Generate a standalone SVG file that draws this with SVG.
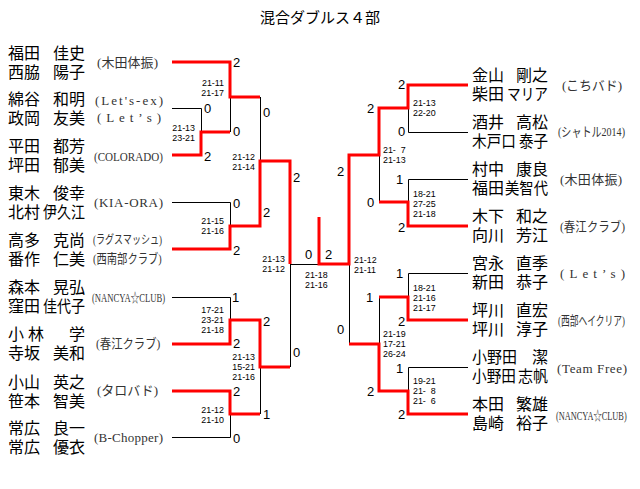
<svg xmlns="http://www.w3.org/2000/svg" width="640" height="489" viewBox="0 0 640 489">
<style>
.bg{fill:#fff}
.tt{font-family:"Liberation Sans","Noto Sans CJK JP",sans-serif;font-size:15px;fill:#000;text-anchor:middle}
.nm{font-family:"Liberation Sans","Noto Sans CJK JP",sans-serif;font-size:16px;fill:#000}
.cl{font-family:"Liberation Serif","Noto Sans CJK JP",serif;font-size:13px;fill:#333}
.sc{font-family:"Liberation Sans",sans-serif;font-size:13px;fill:#000}
.ss{font-family:"Liberation Sans",sans-serif;font-size:8.9px;fill:#000}
.se{text-anchor:end}
.w{stroke:#f00;stroke-width:3;fill:none;stroke-linejoin:miter}
.l{stroke:#000;stroke-width:1;fill:none}
</style>
<rect class="bg" x="0" y="0" width="640" height="489"/>
<text class="tt" x="320" y="23">混合ダブルス４部</text>

<g id="connectors">
<path class="l" d="M172,108.5H201.5V132 M230.5,97V132 M172,202.5H230.5V226 M260.5,97V161 M172,297.5H230.5V320 M172,437.5H230.5V414 M260.5,367V414 M290.5,264V367 M290,264.5H319"/>
<path class="l" d="M468,132.5H408.5V108 M468,179.5H408.5V202 M379.5,155V202 M468,273.5H408.5V297 M468,367.5H408.5V391 M379.5,297V344 M349.5,264V344"/>
<path class="w" d="M172,62H230V97H260"/>
<path class="w" d="M172,155H201V132H230"/>
<path class="w" d="M172,249H230V226H260V161H290V264"/>
<path class="w" d="M172,344H230V320H260V367H290"/>
<path class="w" d="M172,391H230V414H260"/>
<path class="w" d="M319,217V264H349V155H379V108H408V85H468"/>
<path class="w" d="M468,226H408V202H379"/>
<path class="w" d="M468,320H408V297H379"/>
<path class="w" d="M468,414H408V391H379V344H349"/>
</g>

<g id="scores">
<text class="sc" x="233" y="67">2</text>
<text class="sc" x="204" y="113">0</text>
<text class="sc" x="233" y="136">0</text>
<text class="sc" x="204" y="161">2</text>
<text class="sc" x="263" y="117">0</text>
<text class="sc" x="293" y="182">2</text>
<text class="sc" x="233" y="208">0</text>
<text class="sc" x="263" y="217">2</text>
<text class="sc" x="233" y="255">2</text>
<text class="sc" x="232" y="302">1</text>
<text class="sc" x="263" y="326">2</text>
<text class="sc" x="233" y="348">2</text>
<text class="sc" x="293" y="357">0</text>
<text class="sc" x="233" y="396">2</text>
<text class="sc" x="263" y="419">1</text>
<text class="sc" x="233" y="443">0</text>
<text class="sc" x="305" y="259">0</text>
<text class="sc" x="325" y="259">2</text>
<text class="sc" x="337" y="176">2</text>
<text class="sc" x="337" y="334">0</text>
<text class="sc" x="398" y="89">2</text>
<text class="sc" x="367" y="113">2</text>
<text class="sc" x="398" y="136">0</text>
<text class="sc" x="396" y="184">1</text>
<text class="sc" x="367" y="207">0</text>
<text class="sc" x="398" y="232">2</text>
<text class="sc" x="396" y="278">1</text>
<text class="sc" x="366" y="302">1</text>
<text class="sc" x="398" y="326">2</text>
<text class="sc" x="396" y="373">1</text>
<text class="sc" x="367" y="396">2</text>
<text class="sc" x="398" y="419">2</text>

<text class="ss se" x="224" y="86">21-11</text>
<text class="ss se" x="224" y="96">21-17</text>
<text class="ss se" x="195" y="131">21-13</text>
<text class="ss se" x="195" y="141">23-21</text>
<text class="ss se" x="255" y="160">21-12</text>
<text class="ss se" x="255" y="170">21-14</text>
<text class="ss se" x="224" y="224">21-15</text>
<text class="ss se" x="224" y="234">21-16</text>
<text class="ss se" x="285" y="262">21-13</text>
<text class="ss se" x="285" y="272">21-12</text>
<text class="ss se" x="224" y="313">17-21</text>
<text class="ss se" x="224" y="323">23-21</text>
<text class="ss se" x="224" y="333">21-18</text>
<text class="ss se" x="255" y="360">21-13</text>
<text class="ss se" x="255" y="370">15-21</text>
<text class="ss se" x="255" y="380">21-16</text>
<text class="ss se" x="224" y="413">21-12</text>
<text class="ss se" x="224" y="423">21-10</text>
<text class="ss" x="305" y="278">21-18</text>
<text class="ss" x="305" y="288">21-16</text>
<text class="ss" x="354" y="263">21-12</text>
<text class="ss" x="354" y="273">21-11</text>
<text class="ss" x="413" y="106">21-13</text>
<text class="ss" x="413" y="116">22-20</text>
<text class="ss" x="383" y="153">21-&#8199;7</text>
<text class="ss" x="383" y="163">21-13</text>
<text class="ss" x="413" y="197">18-21</text>
<text class="ss" x="413" y="207">27-25</text>
<text class="ss" x="413" y="217">21-18</text>
<text class="ss" x="413" y="291">18-21</text>
<text class="ss" x="413" y="301">21-16</text>
<text class="ss" x="413" y="311">21-17</text>
<text class="ss" x="383" y="337">21-19</text>
<text class="ss" x="383" y="347">17-21</text>
<text class="ss" x="383" y="357">26-24</text>
<text class="ss" x="413" y="384">19-21</text>
<text class="ss" x="413" y="394">21-&#8199;8</text>
<text class="ss" x="413" y="404">21-&#8199;6</text>
</g>

<g id="L1">
<text class="nm" x="8" y="58.5">福田</text><text class="nm" x="53" y="58.5">佳史</text>
<text class="nm" x="8" y="77.5">西脇</text><text class="nm" x="53" y="77.5">陽子</text>
<text class="cl" x="97" y="67" textLength="61">(木田体振)</text>
</g>
<g id="L2">
<text class="nm" x="8" y="105">綿谷</text><text class="nm" x="53" y="105">和明</text>
<text class="nm" x="8" y="124">政岡</text><text class="nm" x="53" y="124">友美</text>
<text class="cl" x="95" y="105" textLength="68">(Let's-ex)</text>
<text class="cl" x="97" y="122" textLength="64">(Let’s)</text>
</g>
<g id="L3">
<text class="nm" x="8" y="152">平田</text><text class="nm" x="53" y="152">都芳</text>
<text class="nm" x="8" y="171">坪田</text><text class="nm" x="53" y="171">郁美</text>
<text class="cl" transform="translate(94 161) scale(0.85 1)" textLength="81" lengthAdjust="spacingAndGlyphs">(COLORADO)</text>
</g>
<g id="L4">
<text class="nm" x="8" y="198.5">東木</text><text class="nm" x="53" y="198.5">俊幸</text>
<text class="nm" x="8" y="217.5">北村</text><text class="nm" x="43" y="217.5" textLength="42" lengthAdjust="spacingAndGlyphs">伊久江</text>
<text class="cl" x="94" y="207" textLength="69">(KIA-ORA)</text>
</g>
<g id="L5">
<text class="nm" x="8" y="245.5">高多</text><text class="nm" x="53" y="245.5">克尚</text>
<text class="nm" x="8" y="264.5">番作</text><text class="nm" x="53" y="264.5">仁美</text>
<text class="cl" transform="translate(93 244) scale(0.75 1)" style="font-size:12px" textLength="92" lengthAdjust="spacingAndGlyphs">(ラグスマッシュ)</text>
<text class="cl" transform="translate(93 263) scale(0.8 1)" textLength="86" lengthAdjust="spacingAndGlyphs">(西南部クラブ)</text>
</g>
<g id="L6">
<text class="nm" x="8" y="292.5">森本</text><text class="nm" x="53" y="292.5">晃弘</text>
<text class="nm" x="8" y="311.5">窪田</text><text class="nm" x="43" y="311.5" textLength="42" lengthAdjust="spacingAndGlyphs">佳代子</text>
<text class="cl" transform="translate(92 302) scale(0.63 1)" textLength="116" lengthAdjust="spacingAndGlyphs">(NANCYA☆CLUB)</text>
</g>
<g id="L7">
<text class="nm" x="8" y="339.5">小</text><text class="nm" x="28" y="339.5">林</text><text class="nm" x="69" y="339.5">学</text>
<text class="nm" x="8" y="358.5">寺坂</text><text class="nm" x="53" y="358.5">美和</text>
<text class="cl" transform="translate(96 348) scale(0.87 1)" textLength="74" lengthAdjust="spacingAndGlyphs">(春江クラブ)</text>
</g>
<g id="L8">
<text class="nm" x="8" y="387.5">小山</text><text class="nm" x="53" y="387.5">英之</text>
<text class="nm" x="8" y="406.5">笹本</text><text class="nm" x="53" y="406.5">智美</text>
<text class="cl" x="97" y="395" textLength="61">(タロバド)</text>
</g>
<g id="L9">
<text class="nm" x="8" y="434">常広</text><text class="nm" x="53" y="434">良一</text>
<text class="nm" x="8" y="453">常広</text><text class="nm" x="53" y="453">優衣</text>
<text class="cl" x="94" y="442" textLength="69">(B-Chopper)</text>
</g>

<g id="R1">
<text class="nm" x="472" y="81">金山</text><text class="nm" x="516" y="81">剛之</text>
<text class="nm" x="472" y="100">柴田</text><text class="nm" x="507" y="100" textLength="41" lengthAdjust="spacingAndGlyphs">マリア</text>
<text class="cl" x="562" y="90" textLength="60">(こちバド)</text>
</g>
<g id="R2">
<text class="nm" x="472" y="128">酒井</text><text class="nm" x="516" y="128">高松</text>
<text class="nm" x="472" y="147" textLength="44" lengthAdjust="spacingAndGlyphs">木戸口</text><text class="nm" x="519" y="147" textLength="29" lengthAdjust="spacingAndGlyphs">泰子</text>
<text class="cl" transform="translate(558 136) scale(0.77 1)" textLength="87" lengthAdjust="spacingAndGlyphs">(シャトル2014)</text>
</g>
<g id="R3">
<text class="nm" x="472" y="175">村中</text><text class="nm" x="516" y="175">康良</text>
<text class="nm" x="472" y="194">福田</text><text class="nm" x="505" y="194" textLength="43" lengthAdjust="spacingAndGlyphs">美智代</text>
<text class="cl" x="560" y="184" textLength="62">(木田体振)</text>
</g>
<g id="R4">
<text class="nm" x="472" y="222">木下</text><text class="nm" x="516" y="222">和之</text>
<text class="nm" x="472" y="241">向川</text><text class="nm" x="516" y="241">芳江</text>
<text class="cl" transform="translate(560 231) scale(0.88 1)" textLength="74" lengthAdjust="spacingAndGlyphs">(春江クラブ)</text>
</g>
<g id="R5">
<text class="nm" x="472" y="269">宮永</text><text class="nm" x="516" y="269">直季</text>
<text class="nm" x="472" y="288">新田</text><text class="nm" x="516" y="288">恭子</text>
<text class="cl" x="560" y="278" textLength="65">(Let’s)</text>
</g>
<g id="R6">
<text class="nm" x="472" y="316">坪川</text><text class="nm" x="516" y="316">直宏</text>
<text class="nm" x="472" y="335">坪川</text><text class="nm" x="516" y="335">淳子</text>
<text class="cl" transform="translate(558 325) scale(0.67 1)" textLength="100" lengthAdjust="spacingAndGlyphs">(西部ヘイクリア)</text>
</g>
<g id="R7">
<text class="nm" x="472" y="363" textLength="45" lengthAdjust="spacingAndGlyphs">小野田</text><text class="nm" x="532" y="363">潔</text>
<text class="nm" x="472" y="382" textLength="44" lengthAdjust="spacingAndGlyphs">小野田</text><text class="nm" x="518" y="382" textLength="30" lengthAdjust="spacingAndGlyphs">志帆</text>
<text class="cl" x="557" y="373" textLength="70">(Team Free)</text>
</g>
<g id="R8">
<text class="nm" x="472" y="410">本田</text><text class="nm" x="516" y="410">繁雄</text>
<text class="nm" x="472" y="429">島崎</text><text class="nm" x="516" y="429">裕子</text>
<text class="cl" transform="translate(556 420) scale(0.62 1)" textLength="114" lengthAdjust="spacingAndGlyphs">(NANCYA☆CLUB)</text>
</g>
</svg>
